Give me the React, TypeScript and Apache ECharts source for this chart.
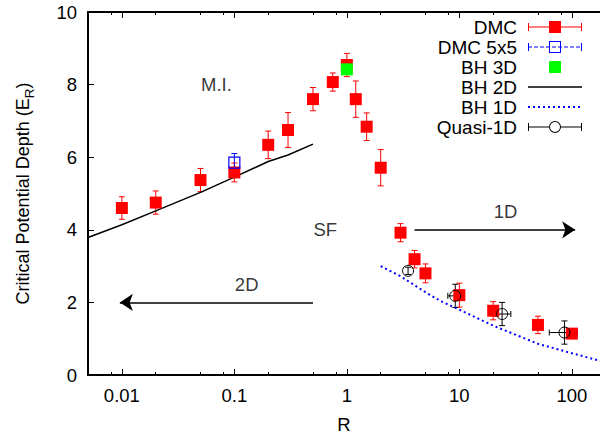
import React, { useEffect, useRef } from 'react';
import * as echarts from 'echarts';

const FONT = '"Liberation Sans", Arial, Helvetica, sans-serif';

// x axis (log) tick values
const majorTicks = [0.01, 0.1, 1, 10, 100];
const minorTicks = [0.008, 0.02, 0.05, 0.08, 0.2, 0.5, 0.8, 2, 5, 8, 20, 50, 80];

// DMC
const dmcR = [0.01, 0.02, 0.05, 0.1, 0.2, 0.3, 0.5, 0.75, 1, 1.2, 1.5, 2, 3, 4, 5, 10, 20, 50, 100];
const dmcV = [4.6, 4.75, 5.37, 5.58, 6.34, 6.75, 7.6, 8.07, 8.54, 7.6, 6.84, 5.71, 3.92, 3.19, 2.8, 2.2, 1.77, 1.38, 1.14];
const dmcE = [0.31, 0.32, 0.32, 0.26, 0.38, 0.48, 0.32, 0.25, 0.32, 0.5, 0.38, 0.5, 0.25, 0.24, 0.26, 0.33, 0.25, 0.24, 0.12];

// DMC 5x5
const dmc5R = [0.1];
const dmc5V = [5.85];
const dmc5E = [0.25];

// BH 3D
const bh3dR = [1];
const bh3dV = [8.42];

// BH 2D
const bh2dR = [0.005, 0.01, 0.02, 0.05, 0.1, 0.2, 0.3, 0.5];
const bh2dV = [3.79, 4.14, 4.52, 5.03, 5.45, 5.88, 6.06, 6.36];

// BH 1D
const bh1dR = [2, 3, 5, 7, 10, 20, 50, 100, 200];
const bh1dV = [3.0, 2.72, 2.28, 2.02, 1.8, 1.36, 0.86, 0.6, 0.35];

// Quasi-1D
const qR = [3.5, 9.2, 24, 86];
const qV = [2.87, 2.18, 1.68, 1.17];
const qE = [0.1, 0.32, 0.32, 0.32];
const qRlo = [3.5, 7.9, 21, 63];
const qRhi = [3.5, 10.6, 28.7, 112];

// arrows
const arrowFrom = [[0.5, 2], [4, 4]];
const arrowTo = [[0.0096, 2], [107, 4]];

// annotations
const noteText = ['M.I.', 'SF', '2D', '1D'];
const noteR = [0.05, 0.5, 0.1, 20];
const noteV = [8, 4.0, 2.5, 4.5];

// legend icons (60 x 14 box, visible from x=6)
const ANCH = 'M0,0h0.01v0.01h-0.01z M59.99,13.99h0.01v0.01h-0.01z';
const CAPS = ' M6,3h1v8h-1z M59,3h1v8h-1z';
const SQ = ' M27,1h12v12h-12z';
let dashes = '';
for (let x = 6; x < 60; x += 6) dashes += ` M${x},6.5h4v1h-4z`;
let dots = '';
for (let x = 6; x <= 58; x += 5) dots += ` M${x},6h2v2h-2z`;
const iconDMC = 'path://' + ANCH + ' M6,6.5h54v1h-54z' + CAPS + SQ;
const iconDMC5 = 'path://' + ANCH + dashes + CAPS + SQ + ' M28,2v10h10v-10z';
const iconBH3 = 'path://' + ANCH + SQ;
const iconBH2 = 'path://' + ANCH + ' M6,6.25h54v1.5h-54z';
const iconBH1 = 'path://' + ANCH + dots;
const iconQ =
  'path://' + ANCH + ' M6,6.5h21v1h-21z M39,6.5h21v1h-21z' + CAPS +
  ' M27,7a6,6 0 1,1 12,0a6,6 0 1,1 -12,0z M28,7a5,5 0 1,0 10,0a5,5 0 1,0 -10,0z';

const errBar = (color: string, cap: number) => (params: any, api: any) => {
  const x = api.value(0);
  const y = api.value(1);
  const e = api.value(2);
  const xl = api.value(3);
  const xh = api.value(4);
  const st = { stroke: color, lineWidth: 1 };
  const children: any[] = [];
  if (e > 0) {
    const t = api.coord([x, y + e]);
    const b = api.coord([x, y - e]);
    children.push({ type: 'line', shape: { x1: t[0], y1: t[1], x2: b[0], y2: b[1] }, style: st });
    children.push({ type: 'line', shape: { x1: t[0] - cap, y1: t[1], x2: t[0] + cap, y2: t[1] }, style: st });
    children.push({ type: 'line', shape: { x1: b[0] - cap, y1: b[1], x2: b[0] + cap, y2: b[1] }, style: st });
  }
  if (xl !== xh) {
    const l = api.coord([xl, y]);
    const r = api.coord([xh, y]);
    children.push({ type: 'line', shape: { x1: l[0], y1: l[1], x2: r[0], y2: r[1] }, style: st });
    children.push({ type: 'line', shape: { x1: l[0], y1: l[1] - cap, x2: l[0], y2: l[1] + cap }, style: st });
    children.push({ type: 'line', shape: { x1: r[0], y1: r[1] - cap, x2: r[0], y2: r[1] + cap }, style: st });
  }
  return { type: 'group', children };
};

const xAxisDef = (position: string, minor: boolean, labels: boolean): any => ({
  type: 'log',
  logBase: 10,
  min: 0.005,
  max: 178,
  position,
  splitLine: { show: false },
  axisLine: { show: !minor, onZero: false, lineStyle: { color: '#000', width: 2 } },
  axisTick: {
    show: true,
    inside: true,
    length: minor ? 3 : 6,
    customValues: minor ? minorTicks : majorTicks,
    lineStyle: { color: '#000', width: 1 },
  },
  axisLabel: labels
    ? {
        show: true,
        customValues: majorTicks,
        formatter: (v: number) => String(v),
        fontSize: 18.5,
        color: '#000',
        fontFamily: FONT,
        margin: 11,
      }
    : { show: false },
  ...(labels
    ? {
        name: 'R',
        nameLocation: 'middle',
        nameGap: 40,
        nameTextStyle: { fontSize: 18.5, lineHeight: 18, color: '#000', fontFamily: FONT },
      }
    : {}),
});

export default function App() {
  const ref = useRef<HTMLDivElement>(null);
  useEffect(() => {
    if (!ref.current) return;
    const chart = echarts.init(ref.current, null, { renderer: 'svg' });
    const option: any = {
      animation: false,
      backgroundColor: '#fff',
      grid: { left: 88, top: 12, right: 0, bottom: 59, containLabel: false, outerBoundsMode: 'none' },
      xAxis: [
        xAxisDef('bottom', false, true),
        xAxisDef('bottom', true, false),
        xAxisDef('top', false, false),
        xAxisDef('top', true, false),
      ],
      yAxis: [
        {
          type: 'value',
          min: 0,
          max: 10,
          interval: 2,
          position: 'left',
          splitLine: { show: false },
          axisLine: { show: true, onZero: false, lineStyle: { color: '#000', width: 2 } },
          axisTick: { show: true, inside: true, length: 6, lineStyle: { color: '#000', width: 1 } },
          axisLabel: { fontSize: 18.5, color: '#000', fontFamily: FONT, margin: 11 },
          name: 'Critical Potential Depth (E{sub|R})',
          nameLocation: 'middle',
          nameGap: 52,
          nameTextStyle: {
            fontSize: 18,
            color: '#000',
            fontFamily: FONT,
            rich: { sub: { fontSize: 13.5, color: '#000', fontFamily: FONT, padding: [13, 0, 0, 0], verticalAlign: 'bottom' } },
          },
        },
      ],
      legend: {
        orient: 'vertical',
        align: 'right',
        right: 18,
        top: 17,
        padding: 0,
        itemGap: 0,
        itemWidth: 60,
        itemHeight: 14,
        selectedMode: false,
        textStyle: { fontSize: 19, color: '#000', fontFamily: FONT, lineHeight: 20 },
        itemStyle: { borderWidth: 0 },
        data: [
          { name: 'DMC', icon: iconDMC, itemStyle: { color: '#ff0000' } },
          { name: 'DMC 5x5', icon: iconDMC5, itemStyle: { color: '#0000ff' } },
          { name: 'BH 3D', icon: iconBH3, itemStyle: { color: '#00ff00' } },
          { name: 'BH 2D', icon: iconBH2, itemStyle: { color: '#000000' } },
          { name: 'BH 1D', icon: iconBH1, itemStyle: { color: '#0000ff' } },
          { name: 'Quasi-1D', icon: iconQ, itemStyle: { color: '#000000' } },
        ],
      },
      series: [
        {
          type: 'custom',
          name: 'DMC err',
          renderItem: errBar('#ff0000', 3),
          encode: { x: 0, y: 1 },
          data: dmcR.map((r, i) => [r, dmcV[i], dmcE[i], r, r]),
          silent: true,
          z: 2,
        },
        {
          type: 'scatter',
          name: 'DMC',
          symbol: 'rect',
          symbolSize: 12,
          itemStyle: { color: '#ff0000', opacity: 1 },
          data: dmcR.map((r, i) => [r, dmcV[i]]),
          silent: true,
          z: 2,
        },
        {
          type: 'custom',
          name: 'DMC 5x5 err',
          renderItem: errBar('#0000ff', 3),
          encode: { x: 0, y: 1 },
          data: dmc5R.map((r, i) => [r, dmc5V[i], dmc5E[i], r, r]),
          silent: true,
          z: 2,
        },
        {
          type: 'scatter',
          name: 'DMC 5x5',
          symbol: 'rect',
          symbolSize: 11,
          itemStyle: { color: 'transparent', borderColor: '#0000ff', borderWidth: 1.2, opacity: 1 },
          data: dmc5R.map((r, i) => [r, dmc5V[i]]),
          silent: true,
          z: 2,
        },
        {
          type: 'scatter',
          name: 'BH 3D',
          symbol: 'rect',
          symbolSize: 12,
          itemStyle: { color: '#00ff00', opacity: 1 },
          data: bh3dR.map((r, i) => [r, bh3dV[i]]),
          silent: true,
          z: 2,
        },
        {
          type: 'line',
          name: 'BH 2D',
          symbol: 'none',
          lineStyle: { color: '#000', width: 1.5 },
          itemStyle: { color: '#000' },
          data: bh2dR.map((r, i) => [r, bh2dV[i]]),
          silent: true,
          z: 2,
        },
        {
          type: 'line',
          name: 'BH 1D',
          symbol: 'none',
          lineStyle: { color: '#0000ff', width: 2, type: [2, 3] },
          itemStyle: { color: '#0000ff' },
          data: bh1dR.map((r, i) => [r, bh1dV[i]]),
          silent: true,
          z: 2,
        },
        {
          type: 'custom',
          name: 'Quasi err',
          renderItem: errBar('#000000', 3),
          encode: { x: 0, y: 1 },
          data: qR.map((r, i) => [r, qV[i], qE[i], qRlo[i], qRhi[i]]),
          silent: true,
          z: 2,
        },
        {
          type: 'scatter',
          name: 'Quasi-1D',
          symbol: 'circle',
          symbolSize: 11,
          itemStyle: { color: 'transparent', borderColor: '#000', borderWidth: 1, opacity: 1 },
          data: qR.map((r, i) => [r, qV[i]]),
          silent: true,
          z: 2,
        },
        {
          type: 'lines',
          name: 'arrows',
          coordinateSystem: 'cartesian2d',
          symbol: ['none', 'arrow'],
          symbolSize: [7, 13],
          lineStyle: { color: '#000', width: 1.5, opacity: 1 },
          data: arrowFrom.map((f, i) => ({ coords: [f, arrowTo[i]] })),
          silent: true,
          z: 2,
        },
        {
          type: 'scatter',
          name: 'notes',
          symbolSize: 1,
          itemStyle: { color: 'transparent' },
          label: {
            show: true,
            position: 'right',
            distance: 0,
            formatter: '{b}',
            fontSize: 18.5,
            color: '#000',
            fontFamily: FONT,
          },
          data: noteR.map((r, i) => ({ name: noteText[i], value: [r, noteV[i]] })),
          silent: true,
          z: 3,
        },
      ],
    };
    chart.setOption(option);
    return () => chart.dispose();
  }, []);
  return <div ref={ref} style={{ position: 'absolute', left: 0, top: 0, width: 600, height: 434 }} />;
}
